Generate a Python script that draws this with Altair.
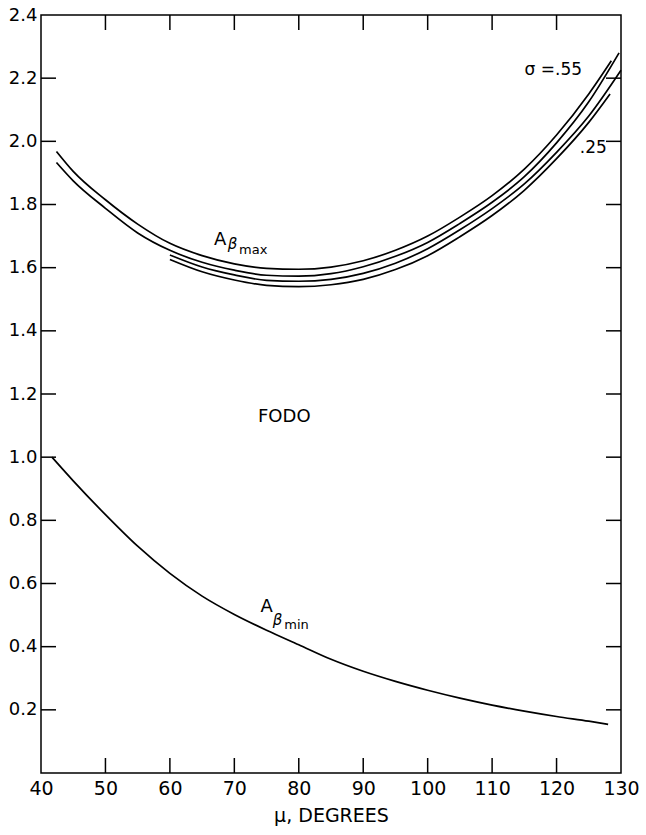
import altair as alt
import pandas as pd

# ---- data ----
mu_max_a = [42.4, 45, 50, 55, 60, 65, 70, 75, 80, 85, 90, 95, 100, 105, 110, 115, 120, 125, 128.5]
amax_s55 = [1.968, 1.905, 1.815, 1.738, 1.677, 1.638, 1.612, 1.598, 1.595, 1.602, 1.622, 1.655,
            1.700, 1.760, 1.828, 1.912, 2.020, 2.150, 2.255]
mu_max_b = [42.4, 45, 50, 55, 60, 65, 70, 75, 80, 85, 90, 95, 100, 105, 110, 115, 120, 125, 129.7]
amax_s45 = [1.933, 1.875, 1.788, 1.710, 1.655, 1.617, 1.592, 1.576, 1.573, 1.581, 1.603, 1.636,
            1.680, 1.740, 1.807, 1.888, 1.995, 2.125, 2.280]
mu_max_c = [60, 65, 70, 75, 80, 85, 90, 95, 100, 105, 110, 115, 120, 125, 130]
amax_s35 = [1.640, 1.602, 1.577, 1.560, 1.557, 1.563, 1.582, 1.614, 1.660, 1.720, 1.787, 1.865,
            1.965, 2.080, 2.225]
mu_max_d = [60, 65, 70, 75, 80, 85, 90, 95, 100, 105, 110, 115, 120, 125, 128.3]
amax_s25 = [1.626, 1.587, 1.561, 1.544, 1.540, 1.546, 1.563, 1.594, 1.638, 1.698, 1.765, 1.845,
            1.945, 2.060, 2.150]

mu_min = [41.7, 45, 50, 55, 60, 65, 70, 75, 80, 85, 90, 95, 100, 105, 110, 115, 120, 125, 128]
amin = [1.000, 0.925, 0.818, 0.718, 0.632, 0.560, 0.502, 0.452, 0.406, 0.360, 0.322, 0.290,
        0.262, 0.237, 0.215, 0.196, 0.179, 0.164, 0.154]

x_ticks = [40, 50, 60, 70, 80, 90, 100, 110, 120, 130]
x_inner_ticks = [50, 60, 70, 80, 90, 100, 110, 120]
y_ticks = [0.2, 0.4, 0.6, 0.8, 1.0, 1.2, 1.4, 1.6, 1.8, 2.0, 2.2, 2.4]
y_inner_ticks = [0.2, 0.4, 0.6, 0.8, 1.0, 1.2, 1.4, 1.6, 1.8, 2.0, 2.2]

# ---- build table ----
rows = []
for name, xs, ys in [("s55", mu_max_a, amax_s55), ("s45", mu_max_b, amax_s45),
                     ("s35", mu_max_c, amax_s35), ("s25", mu_max_d, amax_s25),
                     ("min", mu_min, amin)]:
    for xv, yv in zip(xs, ys):
        rows.append({"series": name, "mu": xv, "A": yv})
df = pd.DataFrame(rows)

W, H = 580, 758
FONT = "DejaVu Sans"
xscale = alt.Scale(domain=[40, 130], nice=False, zero=False)
yscale = alt.Scale(domain=[0, 2.4], nice=False, zero=False)

xaxis = alt.Axis(values=x_ticks, format="d", tickSize=0, domain=False, grid=False,
                 labelFont=FONT, labelFontSize=19, labelColor="black",
                 labelPadding=6, labelFlush=False, title="μ, DEGREES",
                 titleFont=FONT, titleFontSize=19, titleFontWeight="normal",
                 titleColor="black", titlePadding=8)
yaxis = alt.Axis(values=y_ticks, format=".1f", tickSize=0, domain=False, grid=False,
                 labelFont=FONT, labelFontSize=18, labelColor="black",
                 labelPadding=4, labelFlush=False, title=None)

lines = alt.Chart(df).mark_line(color="black", strokeWidth=1.7, interpolate="monotone").encode(
    x=alt.X("mu:Q", scale=xscale, axis=xaxis, title="μ, DEGREES"),
    y=alt.Y("A:Q", scale=yscale, axis=yaxis, title=None),
    detail="series:N",
)

ydf = pd.DataFrame({"t": y_inner_ticks})
xdf = pd.DataFrame({"t": x_inner_ticks})
TL = 15
left_ticks = alt.Chart(ydf).mark_rule(color="black", strokeWidth=1.5).encode(
    y=alt.Y("t:Q", scale=yscale, axis=yaxis, title=None), x=alt.value(0), x2=alt.value(TL))
right_ticks = alt.Chart(ydf).mark_rule(color="black", strokeWidth=1.5).encode(
    y=alt.Y("t:Q", scale=yscale, axis=yaxis, title=None), x=alt.value(W - TL), x2=alt.value(W))
bottom_ticks = alt.Chart(xdf).mark_rule(color="black", strokeWidth=1.5).encode(
    x=alt.X("t:Q", scale=xscale, axis=xaxis, title="μ, DEGREES"), y=alt.value(H - TL), y2=alt.value(H))
top_ticks = alt.Chart(xdf).mark_rule(color="black", strokeWidth=1.5).encode(
    x=alt.X("t:Q", scale=xscale, axis=xaxis, title="μ, DEGREES"), y=alt.value(0), y2=alt.value(TL))


def label(text, xv, yv, size, dx=0, dy=0, style="normal", align="center"):
    return alt.Chart().mark_text(text=text, font=FONT, fontSize=size, fontStyle=style,
                                 color="black", align=align, baseline="middle",
                                 dx=dx, dy=dy).encode(
        x=alt.datum(xv, scale=xscale, axis=xaxis, title="μ, DEGREES"),
        y=alt.datum(yv, scale=yscale, axis=yaxis, title=None))


texts = [
    label("A", 67.8, 1.688, 18),
    label("β", 67.8, 1.688, 15, dx=12.5, dy=4, style="italic"),
    label("max", 67.8, 1.688, 13, dx=33, dy=10),
    label("A", 75.0, 0.526, 18),
    label("β", 75.0, 0.526, 15, dx=11, dy=13, style="italic"),
    label("min", 75.0, 0.526, 13, dx=30, dy=18),
    label("FODO", 77.75, 1.127, 18),
    label("σ =.55", 119.5, 2.226, 17),
    label(".25", 125.7, 1.979, 17),
]

chart = alt.layer(lines, left_ticks, right_ticks, bottom_ticks, top_ticks, *texts).properties(
    width=W, height=H,
    padding={"left": 41, "top": 15, "right": 25, "bottom": 62},
    autosize=alt.AutoSizeParams(type="none"),
    background="white",
).configure_view(stroke="black", strokeWidth=1.5)

chart.save("out.html", embed_options={"renderer": "svg", "actions": False})
